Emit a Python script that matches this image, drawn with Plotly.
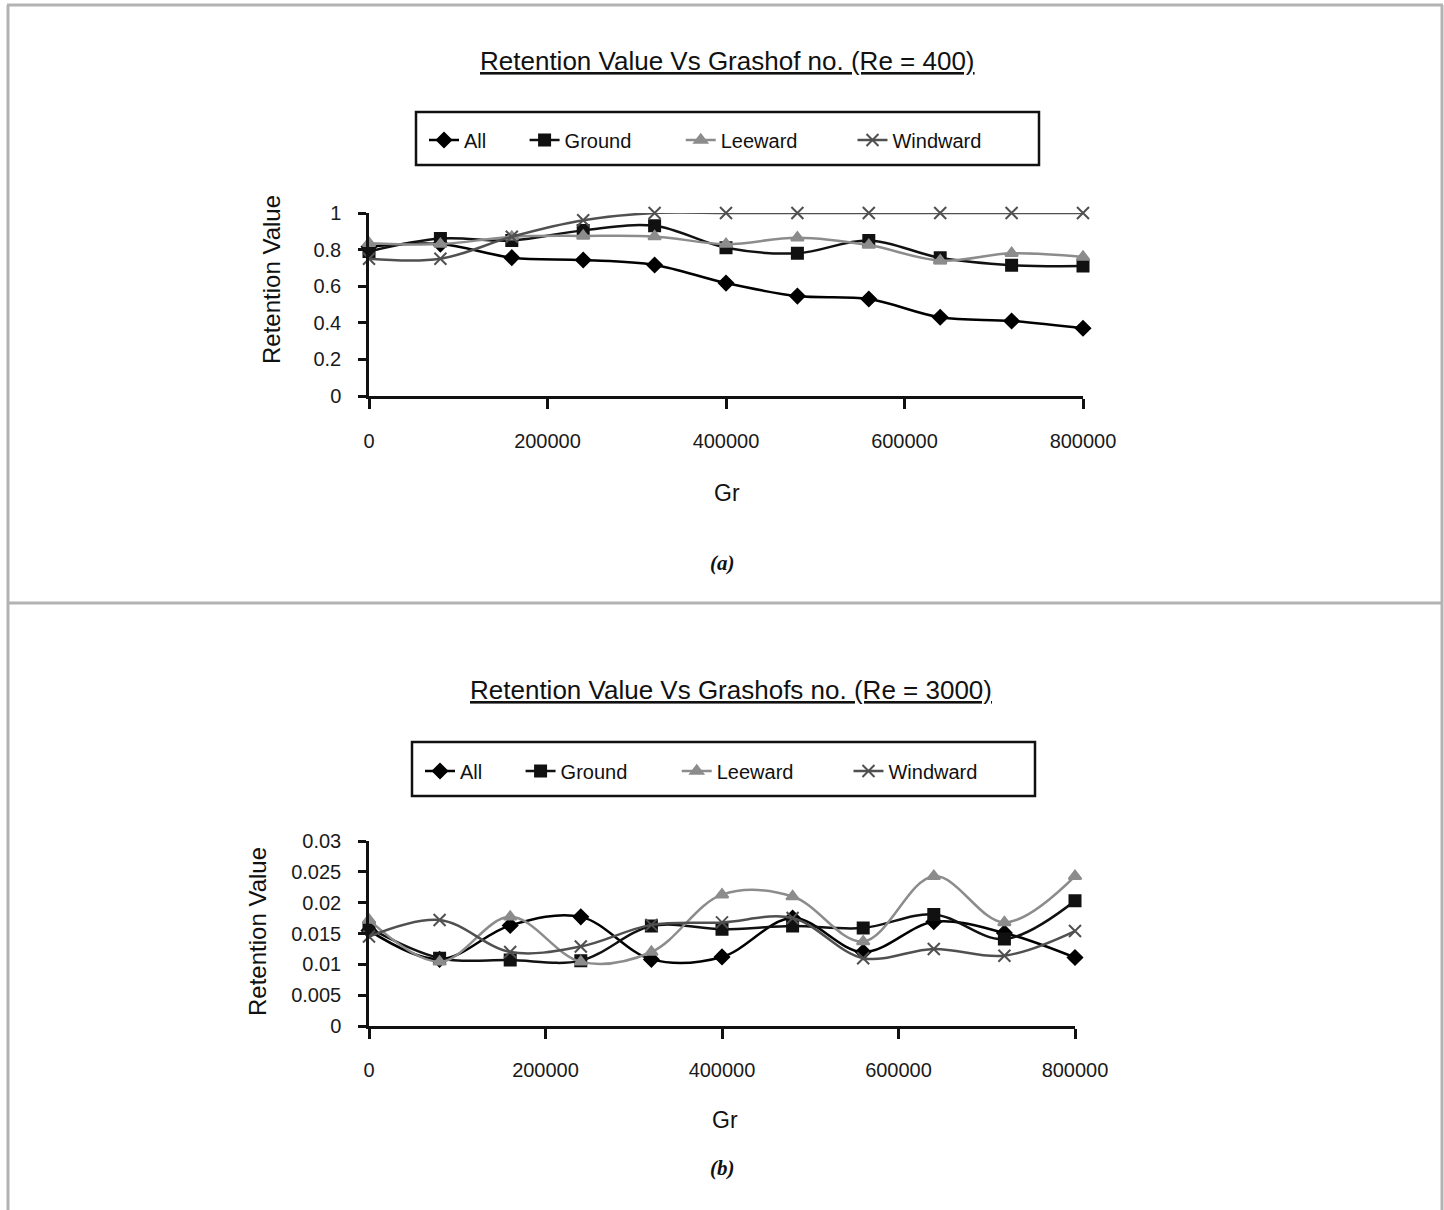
import plotly.graph_objects as go

W, H = 1444, 1210

# ---------------- data ----------------
gr = [0, 80000, 160000, 240000, 320000, 400000, 480000, 560000, 640000, 720000, 800000]

# (a) Re = 400
all_a = [0.815, 0.83, 0.756, 0.743, 0.716, 0.617, 0.546, 0.53, 0.43, 0.41, 0.37]
ground_a = [0.79, 0.86, 0.85, 0.905, 0.93, 0.81, 0.78, 0.85, 0.755, 0.715, 0.71]
leeward_a = [0.835, 0.83, 0.87, 0.875, 0.872, 0.83, 0.865, 0.825, 0.74, 0.78, 0.76]
windward_a = [0.75, 0.75, 0.87, 0.96, 1.0, 1.0, 1.0, 1.0, 1.0, 1.0, 1.0]

# (b) Re = 3000
all_b = [0.0155, 0.0108, 0.0163, 0.0177, 0.0108, 0.0112, 0.0175, 0.012, 0.0169, 0.0151, 0.0111]
ground_b = [0.0159, 0.011, 0.0107, 0.0106, 0.0162, 0.0157, 0.0162, 0.0159, 0.0181, 0.0141, 0.0203]
leeward_b = [0.0172, 0.0104, 0.0177, 0.0104, 0.012, 0.0213, 0.021, 0.0137, 0.0243, 0.0168, 0.0243]
windward_b = [0.0145, 0.0172, 0.012, 0.0129, 0.0164, 0.0168, 0.0175, 0.011, 0.0125, 0.0114, 0.0154]

series_names = ["All", "Ground", "Leeward", "Windward"]
NB = "\u00a0"
legend_labels = ["All" + NB * 6, "Ground" + NB * 8, "Leeward" + NB * 9, "Windward"]

title_a = "Retention Value Vs Grashof no. (Re = 400)"
title_b = "Retention Value Vs Grashofs no. (Re = 3000)"

# ---------------- styles ----------------
FONT = "Liberation Sans, Arial, sans-serif"
styles = [
    dict(color="#000000", symbol="diamond", size=11, lw=2.5),
    dict(color="#111111", symbol="square", size=11, lw=2.5),
    dict(color="#8c8c8c", symbol="triangle-up", size=11, lw=2.5),
    dict(color="#505050", symbol="x-thin-open", size=12, lw=2.5),
]

def px(xp):
    return xp / W

def py(yp):
    return 1 - yp / H

fig = go.Figure()

def add_series(ys_list, xa, ya, legend):
    for name, lab, ys, st in zip(series_names, legend_labels, ys_list, styles):
        fig.add_trace(go.Scatter(
            x=gr, y=ys, name=lab, xaxis=xa, yaxis=ya, legend=legend,
            mode="lines+markers", cliponaxis=False,
            line=dict(color=st["color"], width=st["lw"], shape="spline", smoothing=1.0),
            marker=dict(color=st["color"], symbol=st["symbol"], size=st["size"],
                        line=dict(color=st["color"], width=2)),
            hovertemplate=name + ": %{y}<extra></extra>",
        ))

add_series([all_a, ground_a, leeward_a, windward_a], "x", "y", "legend")
add_series([all_b, ground_b, leeward_b, windward_b], "x2", "y2", "legend2")

tickfont = dict(family=FONT, size=20, color="#1a1a1a")
axis_common = dict(showline=True, linecolor="#111", linewidth=2.5, showgrid=False,
                   zeroline=False, tickcolor="#111", tickwidth=2.5, tickfont=tickfont,
                   automargin=False)

dom_xa = [px(369), px(1083)]
dom_ya = [py(396), py(213)]
dom_xb = [px(369), px(1075)]
dom_yb = [py(1026), py(841)]
xt = [0, 200000, 400000, 600000, 800000]

overlay_common = dict(showticklabels=False, showline=False, showgrid=False, zeroline=False,
                      tickcolor="#111", tickwidth=2.5, automargin=False)

fig.update_layout(
    width=W, height=H, autosize=False,
    margin=dict(l=0, r=0, t=0, b=0, pad=0, autoexpand=False),
    paper_bgcolor="white", plot_bgcolor="white",
    font=dict(family=FONT, color="#111"),
    xaxis=dict(domain=dom_xa, anchor="y", range=[0, 800000], tickvals=xt,
               tickformat="d", ticks="outside", ticklen=10, ticklabelstandoff=15, **axis_common),
    yaxis=dict(domain=dom_ya, anchor="x", range=[0, 1], dtick=0.2, ticks="outside", ticklen=8,
               ticklabelstandoff=13, **axis_common),
    xaxis2=dict(domain=dom_xb, anchor="y2", range=[0, 800000], tickvals=xt,
                tickformat="d", ticks="outside", ticklen=10, ticklabelstandoff=14, **axis_common),
    yaxis2=dict(domain=dom_yb, anchor="x2", range=[0, 0.03], dtick=0.005, ticks="outside", ticklen=8,
                ticklabelstandoff=13, **axis_common),
    # overlay axes giving the inside halves of the crossing tick marks
    xaxis3=dict(overlaying="x", anchor="y", range=[0, 800000], tickvals=xt,
                ticks="inside", ticklen=10, **overlay_common),
    yaxis3=dict(overlaying="y", anchor="x", range=[0, 1], dtick=0.2, ticks="inside", ticklen=8,
                **overlay_common),
    xaxis4=dict(overlaying="x2", anchor="y2", range=[0, 800000], tickvals=xt,
                ticks="inside", ticklen=10, **overlay_common),
    yaxis4=dict(overlaying="y2", anchor="x2", range=[0, 0.03], dtick=0.005, ticks="inside", ticklen=8,
                **overlay_common),
    legend=dict(orientation="h", x=px(424), y=py(140), xanchor="left", yanchor="middle",
                bgcolor="rgba(0,0,0,0)", borderwidth=0, font=dict(family=FONT, size=20, color="#111"),
                itemclick=False, itemdoubleclick=False),
    legend2=dict(orientation="h", x=px(420), y=py(771), xanchor="left", yanchor="middle",
                 bgcolor="rgba(0,0,0,0)", borderwidth=0, font=dict(family=FONT, size=20, color="#111"),
                 itemclick=False, itemdoubleclick=False),
    showlegend=True,
)

# frame and legend boxes
frame = dict(type="line", xref="paper", yref="paper", line=dict(color="#b3b3b3", width=3))
fig.add_shape(x0=px(8), x1=px(8), y0=py(5), y1=py(1210), **frame)
fig.add_shape(x0=px(7), x1=px(1443), y0=py(5), y1=py(5), **frame)
fig.add_shape(x0=px(1442), x1=px(1442), y0=py(5), y1=py(1210), **frame)
fig.add_shape(x0=px(7), x1=px(1443), y0=py(603), y1=py(603), **frame)
box = dict(type="rect", xref="paper", yref="paper", line=dict(color="#111", width=2.5),
           fillcolor="rgba(0,0,0,0)")
fig.add_shape(x0=px(416), x1=px(1039), y0=py(165), y1=py(112), **box)
fig.add_shape(x0=px(412), x1=px(1035), y0=py(796), y1=py(742), **box)

def ann(text, x, y, size, angle=0, family=FONT):
    fig.add_annotation(text=text, x=px(x), y=py(y), xref="paper", yref="paper",
                       xanchor="center", yanchor="middle", showarrow=False, textangle=angle,
                       font=dict(family=family, size=size, color="#111"))

ann("<u>" + title_a + "</u>", 727, 61, 26)
ann("<u>" + title_b + "</u>", 731, 690, 26)
ann("Gr", 727, 493, 23)
ann("Gr", 725, 1120, 23)
ann("Retention Value", 271, 280, 24, angle=-90)
ann("Retention Value", 257, 932, 24, angle=-90)
ann("<b><i>(a)</i></b>", 722, 563, 21, family="Liberation Serif, Times New Roman, serif")
ann("<b><i>(b)</i></b>", 722, 1168, 21, family="Liberation Serif, Times New Roman, serif")

fig.write_html("out.html")
